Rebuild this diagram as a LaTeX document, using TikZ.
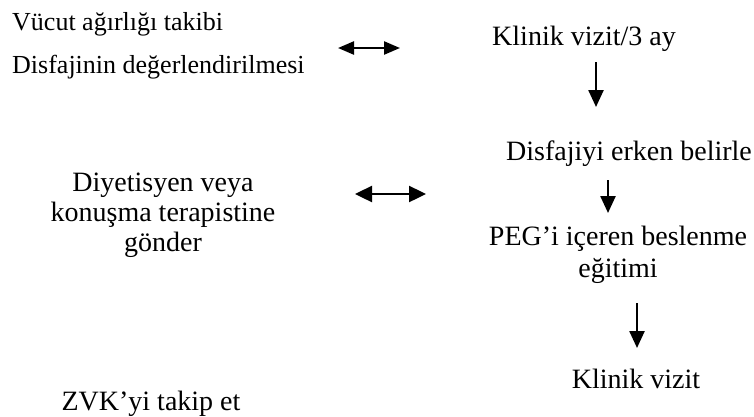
\documentclass[tikz,border=0pt]{standalone}
\usepackage{fontspec}
\setmainfont{Liberation Serif}
\usetikzlibrary{arrows.meta, positioning}

\begin{document}
\begin{tikzpicture}[
  x=1pt, y=-1pt,
  every node/.style={font=\fontsize{28}{30}\selectfont, inner sep=0pt},
  small/.style={font=\fontsize{26}{30}\selectfont},
  txt/.style={align=center},
  link/.style={line width=2.4pt, {Triangle[length=16pt,width=13pt]}-{Triangle[length=16pt,width=13pt]}},
  wide link/.style={line width=2.4pt, {Triangle[length=17pt,width=16pt]}-{Triangle[length=17pt,width=16pt]}},
  flow/.style={line width=2.4pt, -{Triangle[length=17pt,width=15pt]}},
]
\useasboundingbox (0,0) rectangle (754,416);
\node[small, anchor=base west] (kilo)   at (12,30)  {Vücut ağırlığı takibi};
\node[small, anchor=base west] (disfaj) at (12,73)  {Disfajinin değerlendirilmesi};
\node[anchor=base]      (viz3)   at (584,45) {Klinik vizit/3 ay};
\node[anchor=base]      (erken)  at (629,160) {Disfajiyi erken belirle};
\node[txt, anchor=north] (diyet) at (163,173) {Diyetisyen veya\\konuşma terapistine\\gönder};
\node[txt, anchor=north] (peg)   at (618,226) {PEG’i içeren beslenme\\[2pt]eğitimi};
\node[anchor=base]      (viz)    at (636,388) {Klinik vizit};
\node[anchor=base]      (zvk)    at (151,410) {ZVK’yi takip et};
\coordinate (l1a) at (338,48);
\coordinate (l1b) at (400,48);
\coordinate (l2a) at (355,194);
\coordinate (l2b) at (426,194);
\coordinate (d1a) at (596,62);
\coordinate (d1b) at (596,107);
\coordinate (d2a) at (608,180);
\coordinate (d2b) at (608,213);
\coordinate (d3a) at (637,303);
\coordinate (d3b) at (637,348);
\draw[link] (l1a) -- (l1b);
\draw[wide link] (l2a) -- (l2b);
\draw[flow] (d1a) -- (d1b);
\draw[flow] (d2a) -- (d2b);
\draw[flow] (d3a) -- (d3b);
\end{tikzpicture}
\end{document}
